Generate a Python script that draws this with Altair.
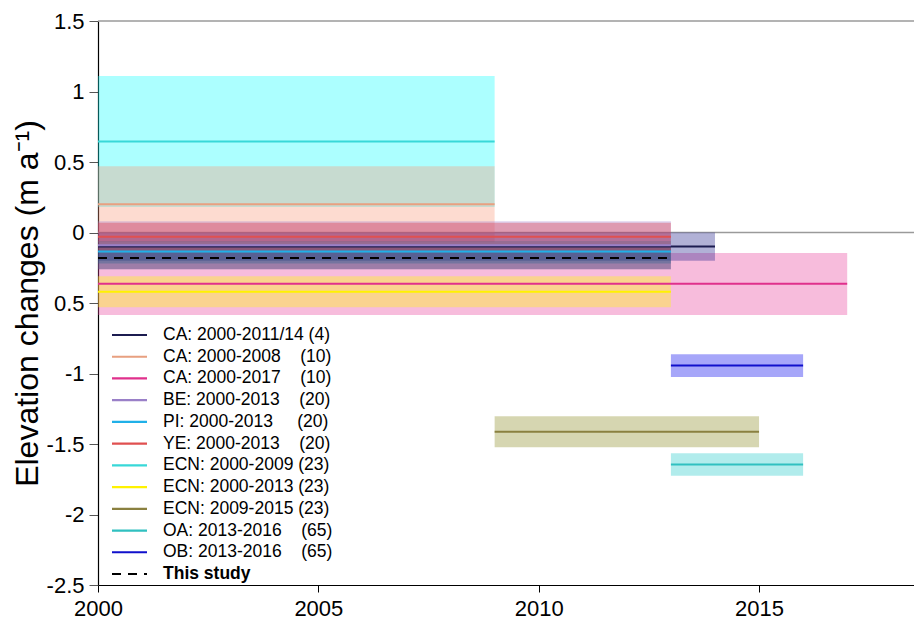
import altair as alt
import pandas as pd

NB = "\u00a0"

# ---- data ----
series_text = ["CA: 2000-2011/14", "CA: 2000-2008", "CA: 2000-2017", "BE: 2000-2013",
               "PI: 2000-2013", "YE: 2000-2013", "ECN: 2000-2009", "ECN: 2000-2013",
               "ECN: 2009-2015", "OA: 2013-2016", "OB: 2013-2016", "This study"]
series_ref = ["(4)", "(10)", "(10)", "(20)", "(20)", "(20)", "(23)", "(23)", "(23)",
              "(65)", "(65)", ""]
starts = [2000, 2000, 2000, 2000, 2000, 2000, 2000, 2000, 2009, 2013, 2013, 2000]
ends = [2014, 2009, 2017, 2013, 2013, 2013, 2009, 2013, 2015, 2016, 2016, 2013]
values = [-0.10, 0.20, -0.363, -0.09, -0.135, -0.03, 0.645, -0.42, -1.414, -1.646, -0.944, -0.18]
lows = [-0.20, -0.07, -0.585, -0.26, -0.22, -0.13, 0.18, -0.53, -1.523, -1.725, -1.025, -0.26]
highs = [0.00, 0.47, -0.145, 0.08, -0.06, 0.07, 1.11, -0.31, -1.303, -1.565, -0.863, -0.10]

hlines = [0, 1.5]
x_ticks = [2000, 2005, 2010, 2015]
y_ticks = [1.5, 1, 0.5, 0, -0.5, -1, -1.5, -2, -2.5]
y_tick_labels = ["1.5", "1", "0.5", "0", "0.5", "-1", "-1.5", "-2", "-2.5"]

# ---- styles ----
label_gaps = [1, 4, 4, 4, 5, 4, 1, 1, 1, 4, 4, 0]
line_colors = ["#1c1c50", "#e8a080", "#e0308c", "#9a80c8", "#20b0e8", "#e05050",
               "#38d8d8", "#fff200", "#8a8040", "#30c0c0", "#1010cc", "#000000"]
band_colors = ["#20208a", "#f89878", "#e8409a", "#a080d0", "#2080b0", "#e03040",
               "#10ffff", "#ffff00", "#8a8a20", "#20c8c8", "#0000ee", "#303050"]
dashes = [[1, 0]] * 11 + [[9, 7]]
band_draw_order = [6, 1, 2, 7, 3, 0, 4, 11, 5, 8, 9, 10]

labels = [t + (NB * g if g else "") + r for t, g, r in zip(series_text, label_gaps, series_ref)]

lines_df = pd.DataFrame({"name": labels, "start": starts, "end": ends, "value": values,
                         "row": list(range(len(labels))),
                         "bold": [t == "This study" for t in series_text]})
band_rows = [
    {"name": labels[i], "start": starts[i], "end": ends[i], "low": lows[i], "high": highs[i]}
    for i in band_draw_order
]
bands_df = pd.DataFrame(band_rows)
hl_df = pd.DataFrame({"h": hlines})

FONT = "Liberation Sans"
PLOT_W, PLOT_H = 816, 564
X_END = 2000 + PLOT_W / 44.07

xscale = alt.Scale(domain=[2000, X_END], nice=False, zero=False)
yscale = alt.Scale(domain=[-2.5, 1.5], nice=False, zero=False)
stroke_scale = alt.Scale(domain=labels, range=line_colors)
dash_scale = alt.Scale(domain=labels, range=dashes)

label_expr = "[" + ",".join("'%s'" % s for s in y_tick_labels) + "][indexof([" + \
    ",".join(str(v) for v in y_ticks) + "], datum.value)]"

xaxis = alt.Axis(values=x_ticks, format="d", title=None, grid=False, labelFontSize=22,
                 labelFont=FONT, labelColor="black", tickSize=7, labelPadding=6,
                 domainColor="black", tickColor="black", labelFlush=False,
                 labelOverlap=False, domainWidth=1.2)
yaxis = alt.Axis(values=y_ticks, labelExpr=label_expr, title="Elevation changes (m a⁻¹)",
                 grid=False, labelFontSize=22, labelFont=FONT, labelColor="black",
                 tickSize=9, labelPadding=5, domainColor="black", tickColor="#555",
                 labelFlush=False, labelOverlap=False, titleFont=FONT, titleFontSize=32,
                 titleFontWeight="normal", titleColor="black", titlePadding=2,
                 domainWidth=1.2)

hl = alt.Chart(hl_df).mark_rule(color="#9a9a9a", strokeWidth=1.5).encode(
    y=alt.Y("h:Q", scale=yscale, axis=yaxis),
    x=alt.value(0), x2=alt.value(PLOT_W),
)

bands = alt.Chart(bands_df).mark_rect(fillOpacity=0.35, strokeWidth=0).encode(
    x=alt.X("start:Q", scale=xscale, axis=xaxis),
    x2="end:Q",
    y=alt.Y("low:Q", scale=yscale, axis=yaxis),
    y2="high:Q",
    fill=alt.Fill("name:N", scale=alt.Scale(domain=labels, range=band_colors), legend=None),
)

lines = alt.Chart(lines_df).mark_rule(strokeWidth=2).encode(
    x=alt.X("start:Q", scale=xscale, axis=xaxis),
    x2="end:Q",
    y=alt.Y("value:Q", scale=yscale, axis=yaxis),
    stroke=alt.Stroke("name:N", scale=stroke_scale, legend=None),
    strokeDash=alt.StrokeDash("name:N", scale=dash_scale, legend=None),
)

main = alt.layer(hl, bands, lines)

# ---- legend drawn as its own layer (rows through a row scale) ----
row_y = alt.Y("row:Q", scale=alt.Scale(domain=[0, len(labels) - 1], range=[314, 553]), axis=None)

leg_lines = alt.Chart(lines_df).mark_rule(strokeWidth=2.2).encode(
    x=alt.value(14), x2=alt.value(49), y=row_y,
    stroke=alt.Stroke("name:N", scale=stroke_scale, legend=None),
    strokeDash=alt.StrokeDash("name:N", scale=dash_scale, legend=None),
)
leg_text = alt.Chart(lines_df).transform_filter("!datum.bold").mark_text(
    align="left", baseline="middle", font=FONT, fontSize=17.5, color="black"
).encode(x=alt.value(65), y=row_y, text="name:N")
leg_bold = alt.Chart(lines_df).transform_filter("datum.bold").mark_text(
    align="left", baseline="middle", font=FONT, fontSize=17.5, fontWeight="bold", color="black"
).encode(x=alt.value(65), y=row_y, text="name:N")

legend = alt.layer(leg_lines, leg_text, leg_bold)

chart = alt.layer(main, legend).resolve_scale(y="independent").properties(
    width=PLOT_W, height=PLOT_H,
    autosize=alt.AutoSizeParams(type="none"),
    padding={"left": 90, "top": 13, "right": 0, "bottom": 35},
    background="white",
).configure_view(stroke=None)

chart.save("out.html", embed_options={"renderer": "svg", "actions": False})
